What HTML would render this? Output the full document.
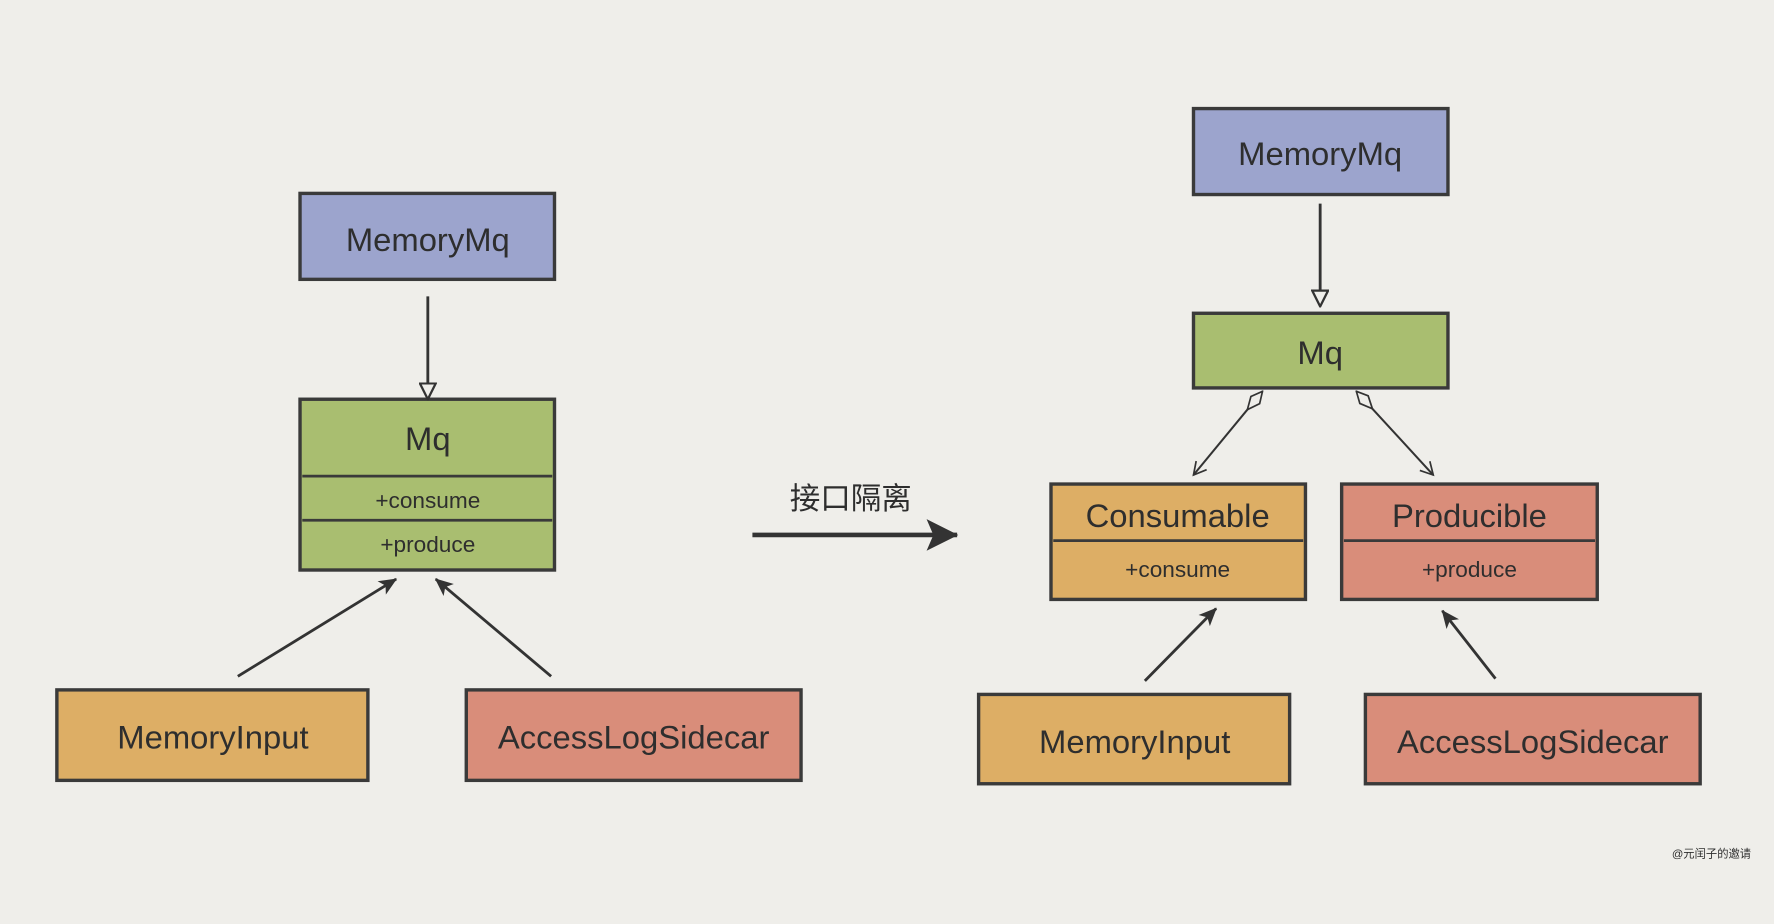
<!DOCTYPE html>
<html><head><meta charset="utf-8"><style>
html,body{margin:0;padding:0;background:#efeeea;}
svg{display:block}
text{font-family:"Liberation Sans","Noto Sans CJK SC",sans-serif;fill:#2e2e2e;text-anchor:middle;}
</style></head><body>
<svg width="1774" height="924" viewBox="0 0 1568 817" xmlns="http://www.w3.org/2000/svg">
<defs>
<marker id="hollow" markerWidth="16" markerHeight="16" refX="14" refY="8" orient="auto" markerUnits="userSpaceOnUse">
<path d="M1,1 L15,8 L1,15 Z" fill="#efeeea" stroke="#333" stroke-width="2"/></marker>
<marker id="filled" markerWidth="18" markerHeight="16" refX="16" refY="8" orient="auto" markerUnits="userSpaceOnUse">
<path d="M1,1 L17,8 L1,15 L5,8 Z" fill="#333"/></marker>
<marker id="big" markerWidth="30" markerHeight="32" refX="28" refY="16" orient="auto" markerUnits="userSpaceOnUse">
<path d="M1,2 L29,16 L1,30 L7,16 Z" fill="#333"/></marker>
<marker id="open" markerWidth="14" markerHeight="14" refX="12" refY="7" orient="auto" markerUnits="userSpaceOnUse">
<path d="M1,1 L12,7 L1,13" fill="none" stroke="#333" stroke-width="1.5"/></marker>
<marker id="dia" markerWidth="24" markerHeight="12" refX="1" refY="6" orient="auto" markerUnits="userSpaceOnUse">
<path d="M1,6 L11,1 L22,6 L11,11 Z" fill="#efeeea" stroke="#333" stroke-width="1.5"/></marker>
</defs>
<rect width="1568" height="817" fill="#efeeea"/>
<g stroke="#3a3a3a" stroke-width="3">
<rect x="265" y="171" width="225" height="76" fill="#9ca4cd"/>
<rect x="265" y="353" width="225" height="151" fill="#a9be70"/>
<rect x="50" y="610" width="275" height="80" fill="#ddae65"/>
<rect x="412" y="610" width="296" height="80" fill="#d98d7a"/>
<rect x="1055" y="96" width="225" height="76" fill="#9ca4cd"/>
<rect x="1055" y="277" width="225" height="66" fill="#a9be70"/>
<rect x="929" y="428" width="225" height="102" fill="#ddae65"/>
<rect x="1186" y="428" width="226" height="102" fill="#d98d7a"/>
<rect x="865" y="614" width="275" height="79" fill="#ddae65"/>
<rect x="1207" y="614" width="296" height="79" fill="#d98d7a"/>
</g>
<g stroke="#3a3a3a" stroke-width="2.5">
<line x1="267" y1="421" x2="488" y2="421"/><line x1="267" y1="460" x2="488" y2="460"/>
<line x1="931" y1="478" x2="1152" y2="478"/><line x1="1188" y1="478" x2="1410" y2="478"/>
</g>
<g stroke="#333" stroke-width="2.5" fill="none">
<line x1="378" y1="262" x2="378" y2="352" marker-end="url(#hollow)"/>
<line x1="1167" y1="180" x2="1167" y2="270" marker-end="url(#hollow)"/>
<line x1="210" y1="598" x2="350" y2="512" marker-end="url(#filled)"/>
<line x1="487" y1="598" x2="385" y2="512" marker-end="url(#filled)"/>
<line x1="1012" y1="602" x2="1075" y2="538" marker-end="url(#filled)"/>
<line x1="1322" y1="600" x2="1275" y2="540" marker-end="url(#filled)"/>
<line x1="1116" y1="346" x2="1055" y2="420" stroke-width="1.8" marker-start="url(#dia)" marker-end="url(#open)"/>
<line x1="1199" y1="346" x2="1267" y2="420" stroke-width="1.8" marker-start="url(#dia)" marker-end="url(#open)"/>
<line x1="665" y1="473" x2="846" y2="473" stroke-width="4" marker-end="url(#big)"/>
</g>
<g font-size="29">
<text x="378" y="222">MemoryMq</text>
<text x="378" y="398">Mq</text>
<text x="188" y="662">MemoryInput</text>
<text x="560" y="662">AccessLogSidecar</text>
<text x="1167" y="146">MemoryMq</text>
<text x="1167" y="322">Mq</text>
<text x="1041" y="466">Consumable</text>
<text x="1299" y="466">Producible</text>
<text x="1003" y="666">MemoryInput</text>
<text x="1355" y="666">AccessLogSidecar</text>
</g>
<g font-size="20">
<text x="378" y="449">+consume</text>
<text x="378" y="488">+produce</text>
<text x="1041" y="510">+consume</text>
<text x="1299" y="510">+produce</text>
</g>
<text x="752" y="450" font-size="27">接口隔离</text>
<text x="1513" y="758" font-size="10" fill="#666">@元闰子的邀请</text>
</svg>
</body></html>
